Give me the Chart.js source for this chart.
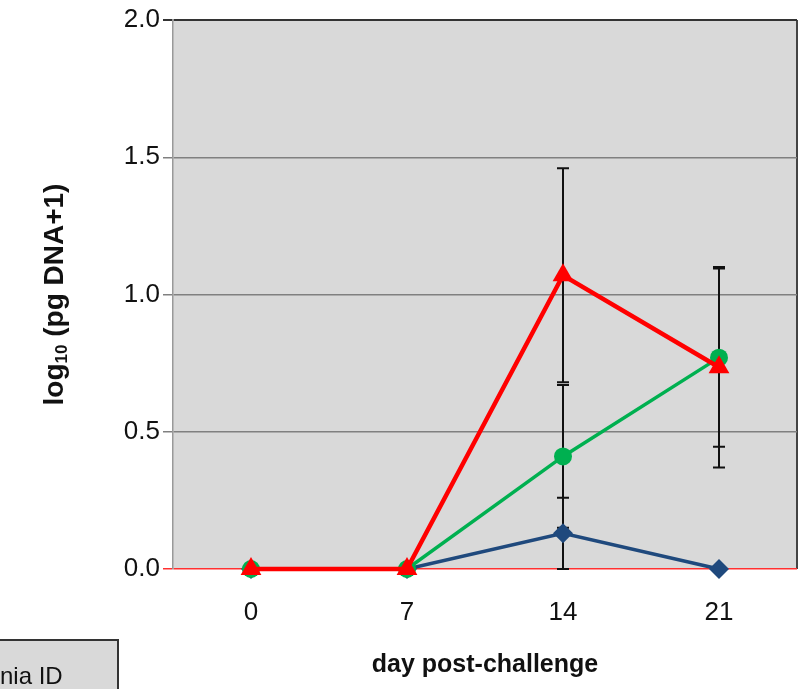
<!DOCTYPE html>
<html>
<head>
<meta charset="utf-8">
<script src="https://cdn.jsdelivr.net/npm/chart.js@4.4.1/dist/chart.umd.min.js"></script>
<style>
    html, body { margin: 0; padding: 0; background: #fff; }
    #wrap { width: 799px; height: 689px; position: relative; }
</style>
</head>
<body>
<div id="wrap"><canvas id="dnaChart" width="799" height="689"></canvas></div>
<script>
// days sampled
const days = ['0', '7', '14', '21'];

// mean log10(pg DNA+1) per group
const blueMeans = [0, 0, 0.13, 0];
const greenMeans = [0, 0, 0.41, 0.77];
const redMeans = [0, 0, 1.07, 0.735];

// error bar half-widths
const blueErr = [0, 0, 0.13, 0];
const greenErr = [0, 0, 0.26, 0.325];
const redErr = [0, 0, 0.39, 0.365];

const yTicks = [0, 0.5, 1.0, 1.5, 2.0];

const FONT = "'Liberation Sans', Arial, sans-serif";

// gray plot background + right frame
const plotFrame = {
    id: 'plotFrame',
    beforeDraw(chart) {
        const { ctx, chartArea: a } = chart;
        ctx.save();
        ctx.fillStyle = '#d9d9d9';
        ctx.fillRect(a.left, a.top, a.right - a.left, a.bottom - a.top);
        ctx.strokeStyle = '#444';
        ctx.lineWidth = 2;
        ctx.beginPath();
        ctx.moveTo(a.right, a.top);
        ctx.lineTo(a.right, a.bottom);
        ctx.stroke();
        ctx.restore();
    }
};

// vertical error bars with caps
const errorBars = {
    id: 'errorBars',
    beforeDatasetsDraw(chart) {
        const { ctx, scales: { x, y } } = chart;
        ctx.save();
        ctx.strokeStyle = '#111';
        ctx.lineWidth = 2;
        chart.data.datasets.forEach((ds) => {
            ds.data.forEach((v, i) => {
                const e = ds.errors[i];
                if (!e) return;
                const px = x.getPixelForValue(i);
                const top = y.getPixelForValue(v + e);
                const bot = y.getPixelForValue(Math.max(0, v - e));
                ctx.beginPath();
                ctx.moveTo(px, top);
                ctx.lineTo(px, bot);
                ctx.moveTo(px - 6, top);
                ctx.lineTo(px + 6, top);
                ctx.moveTo(px - 6, bot);
                ctx.lineTo(px + 6, bot);
                ctx.stroke();
            });
        });
        ctx.restore();
    }
};

// axis titles (y title has a subscript) and the legend box corner
const labels = {
    id: 'labels',
    afterDraw(chart) {
        const { ctx, chartArea: a } = chart;
        ctx.save();
        ctx.fillStyle = '#111';
        ctx.textBaseline = 'middle';

        ctx.font = 'bold 25px ' + FONT;
        ctx.textAlign = 'center';
        ctx.fillText('day post-challenge', (a.left + a.right) / 2, 665);

        // y title rotated
        ctx.translate(55, (a.top + a.bottom) / 2);
        ctx.rotate(-Math.PI / 2);
        const big = 'bold 28px ' + FONT;
        const small = 'bold 17px ' + FONT;
        ctx.font = big;
        const w1 = ctx.measureText('log').width;
        const w3 = ctx.measureText(' (pg DNA+1)').width;
        ctx.font = small;
        const w2 = ctx.measureText('10').width;
        let cx = -(w1 + w2 + w3) / 2;
        ctx.textAlign = 'left';
        ctx.font = big;
        ctx.fillText('log', cx, 0);
        cx += w1;
        ctx.font = small;
        ctx.fillText('10', cx, 7);
        cx += w2;
        ctx.font = big;
        ctx.fillText(' (pg DNA+1)', cx, 0);
        ctx.restore();

        // legend box
        ctx.save();
        ctx.fillStyle = '#d9d9d9';
        ctx.strokeStyle = '#333';
        ctx.lineWidth = 2;
        ctx.fillRect(-5, 640, 123, 60);
        ctx.strokeRect(-5, 640, 123, 60);
        ctx.fillStyle = '#111';
        ctx.font = '24px ' + FONT;
        ctx.textBaseline = 'middle';
        ctx.textAlign = 'left';
        ctx.fillText('nia ID', 0, 677);
        ctx.restore();
    }
};

const ctx = document.getElementById('dnaChart');

new Chart(ctx, {
    type: 'line',
    data: {
        labels: days,
        datasets: [
            {
                label: 'red',
                data: redMeans,
                errors: redErr,
                borderColor: '#ff0000',
                backgroundColor: '#ff0000',
                borderWidth: 4.5,
                pointStyle: 'triangle',
                pointRadius: 12,
                pointBorderWidth: 0,
                clip: false,
                order: 1
            },
            {
                label: 'green',
                data: greenMeans,
                errors: greenErr,
                borderColor: '#00b050',
                backgroundColor: '#00b050',
                borderWidth: 3.5,
                pointStyle: 'circle',
                pointRadius: 9,
                pointBorderWidth: 0,
                clip: false,
                order: 2
            },
            {
                label: 'blue',
                data: blueMeans,
                errors: blueErr,
                borderColor: '#1f497d',
                backgroundColor: '#1f497d',
                borderWidth: 3.5,
                pointStyle: 'rectRot',
                pointRadius: 10,
                pointBorderWidth: 0,
                clip: false,
                order: 3
            }
        ]
    },
    options: {
        responsive: false,
        animation: false,
        events: [],
        layout: {
            autoPadding: false,
            padding: { top: 20, right: 2, bottom: 0, left: 0 }
        },
        plugins: {
            legend: { display: false },
            tooltip: { enabled: false }
        },
        scales: {
            x: {
                offset: true,
                grid: { display: false },
                border: { display: false },
                ticks: {
                    color: '#111',
                    font: { family: FONT, size: 26 },
                    padding: 20
                },
                afterFit: (s) => { s.height = 120; }
            },
            y: {
                min: 0,
                max: 2,
                afterBuildTicks: (s) => { s.ticks = yTicks.map((v) => ({ value: v })); },
                grid: {
                    color: (c) => c.tick.value === 0 ? '#ff3030' : (c.tick.value === 2 ? '#333' : '#808080'),
                    lineWidth: (c) => c.tick.value === 2 ? 2 : 1.5,
                    tickLength: 10
                },
                border: { color: '#999', width: 1.5 },
                ticks: {
                    color: '#111',
                    font: { family: FONT, size: 26 },
                    padding: 3,
                    callback: (v) => Number(v).toFixed(1)
                },
                afterFit: (s) => { s.width = 173; }
            }
        }
    },
    plugins: [plotFrame, errorBars, labels]
});
</script>
</body>
</html>
